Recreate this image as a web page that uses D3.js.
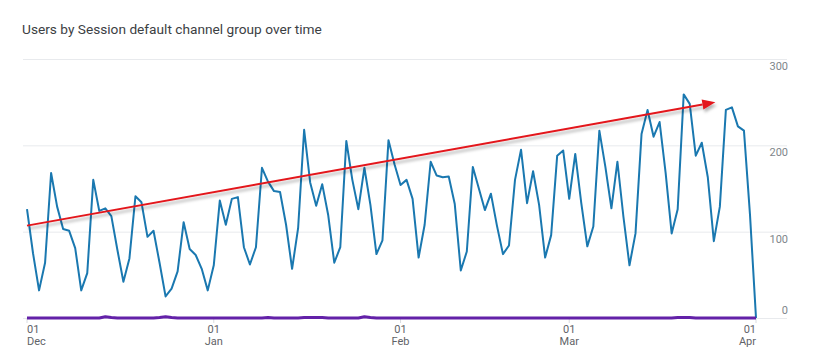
<!DOCTYPE html>
<html>
<head>
<meta charset="utf-8">
<script src="https://cdn.jsdelivr.net/npm/d3@7"></script>
<style>
  body { margin: 0; background: #fff; font-family: Roboto, "Noto Sans", sans-serif; }
  svg { display: block; }
</style>
</head>
<body>
<svg id="chart" width="823" height="354"></svg>
<script>
// daily users, 1 Dec -> 1 Apr
const startDate = new Date(Date.UTC(2022, 11, 1));
const endDate = new Date(Date.UTC(2023, 3, 1));

const organicUsers = [
  126, 75, 32, 64, 168, 129, 103, 101, 81, 32,
  52, 160, 124, 127, 118, 79, 42, 69, 141, 134,
  94, 101, 64, 25, 34, 54, 111, 80, 73, 57,
  32, 61, 136, 108, 138, 140, 82, 62, 82, 174,
  158, 147, 146, 108, 57, 104, 218, 157, 130, 155,
  119, 64, 82, 205, 160, 126, 174, 131, 74, 90,
  206, 178, 154, 160, 138, 70, 108, 181, 165, 163,
  164, 132, 55, 77, 175, 150, 125, 144, 107, 74,
  84, 160, 195, 133, 170, 131, 70, 96, 188, 194,
  138, 190, 133, 83, 106, 217, 175, 127, 181, 117,
  61, 98, 213, 241, 210, 227, 168, 98, 126, 259,
  248, 188, 203, 163, 89, 129, 241, 244, 222, 217,
  120, 0
];

const otherUsers = [
  0, 0, 0, 0, 0, 0, 0, 0, 0, 0,
  0, 0, 0, 1.5, 0.5, 0, 0, 0, 0, 0,
  0, 0, 0.5, 1.5, 0.5, 0, 0, 0, 0, 0,
  0, 0, 0, 0, 0, 0, 0, 0, 0, 0,
  0.5, 0, 0, 0, 0, 0, 0.5, 0.5, 0.5, 0.5,
  0, 0, 0, 0, 0, 0, 1.5, 0.5, 0, 0,
  0, 0, 0, 0, 0, 0, 0, 0, 0, 0,
  0, 0, 0, 0, 0, 0, 0, 0, 0, 0,
  0, 0, 0, 0, 0, 0, 0, 0, 0, 0,
  0, 0, 0, 0, 0, 0, 0, 0, 0, 0,
  0, 0, 0, 0, 0, 0, 0, 0, 0.5, 0.5,
  0.5, 0, 0, 0, 0, 0, 0, 0, 0, 0,
  0, 0
];

const yTicks = [0, 100, 200, 300];
const tickDates = [
  new Date(Date.UTC(2022, 11, 1)),
  new Date(Date.UTC(2023, 0, 1)),
  new Date(Date.UTC(2023, 1, 1)),
  new Date(Date.UTC(2023, 2, 1)),
  new Date(Date.UTC(2023, 3, 1))
];
const tickDays = ["01", "01", "01", "01", "01"];
const tickMonths = ["Dec", "Jan", "Feb", "Mar", "Apr"];

// trend arrow drawn on top (date, value)
const trendFrom = [new Date(Date.UTC(2022, 11, 1)), 107];
const trendTo = [new Date(Date.UTC(2023, 2, 25, 6)), 250];

const title = "Users by Session default channel group over time";

const svg = d3.select("#chart");

const x = d3.scaleUtc().domain([startDate, endDate]).range([27, 756]);
const y = d3.scaleLinear().domain([0, 300]).range([318, 59]);

const days = d3.utcDay.range(startDate, d3.utcDay.offset(endDate, 1));

svg.append("text")
  .attr("x", 22)
  .attr("y", 34)
  .attr("fill", "#3c4043")
  .attr("font-size", 13.7)
  .text(title);

// gridlines
svg.append("g")
  .selectAll("line")
  .data(yTicks)
  .join("line")
  .attr("x1", 23)
  .attr("x2", 787)
  .attr("y1", d => y(d) + 0.5)
  .attr("y2", d => y(d) + 0.5)
  .attr("stroke", "#e8eaed")
  .attr("stroke-width", 1);

// y labels on the right
svg.append("g")
  .selectAll("text")
  .data(yTicks)
  .join("text")
  .attr("x", 788)
  .attr("y", d => d === 0 ? y(d) - 4 : y(d) + 11)
  .attr("text-anchor", "end")
  .attr("fill", "#80868b")
  .attr("font-size", 11)
  .text(d => d);

// x ticks + labels
const xAxis = svg.append("g");
xAxis.selectAll("line")
  .data(tickDates)
  .join("line")
  .attr("x1", d => x(d))
  .attr("x2", d => x(d))
  .attr("y1", 318)
  .attr("y2", 323)
  .attr("stroke", "#dadce0");

const anchorFor = i => i === 0 ? "start" : (i === tickDates.length - 1 ? "end" : "middle");

xAxis.selectAll("text.day")
  .data(tickDates)
  .join("text")
  .attr("class", "day")
  .attr("x", d => x(d))
  .attr("y", 333)
  .attr("text-anchor", (d, i) => anchorFor(i))
  .attr("fill", "#5f6368")
  .attr("font-size", 11)
  .text((d, i) => tickDays[i]);

xAxis.selectAll("text.month")
  .data(tickDates)
  .join("text")
  .attr("class", "month")
  .attr("x", d => x(d))
  .attr("y", 345)
  .attr("text-anchor", (d, i) => anchorFor(i))
  .attr("fill", "#5f6368")
  .attr("font-size", 11)
  .text((d, i) => tickMonths[i]);

const line = d3.line()
  .x((d, i) => x(days[i]))
  .y(d => y(d));

svg.append("path")
  .datum(organicUsers)
  .attr("fill", "none")
  .attr("stroke", "#1a78b0")
  .attr("stroke-width", 2)
  .attr("stroke-linejoin", "round")
  .attr("d", line);

svg.append("path")
  .datum(otherUsers)
  .attr("fill", "none")
  .attr("stroke", "#6321a8")
  .attr("stroke-width", 3)
  .attr("stroke-linejoin", "round")
  .attr("d", line);

// red arrow annotation
const defs = svg.append("defs");
const shadow = defs.append("filter")
  .attr("id", "shadow")
  .attr("x", "-10%").attr("y", "-50%")
  .attr("width", "120%").attr("height", "200%");
shadow.append("feDropShadow")
  .attr("dx", 1.5).attr("dy", 3)
  .attr("stdDeviation", 1.8)
  .attr("flood-color", "#000")
  .attr("flood-opacity", 0.3);

const x0 = x(trendFrom[0]), y0 = y(trendFrom[1]);
const x1 = x(trendTo[0]), y1 = y(trendTo[1]);
const ang = Math.atan2(y1 - y0, x1 - x0);
const headLen = 13, headHalf = 5;
const bx = x1 - headLen * Math.cos(ang), by = y1 - headLen * Math.sin(ang);

const arrow = svg.append("g").attr("filter", "url(#shadow)");
arrow.append("line")
  .attr("x1", x0).attr("y1", y0)
  .attr("x2", bx).attr("y2", by)
  .attr("stroke", "#e3161b")
  .attr("stroke-width", 2);
arrow.append("path")
  .attr("d", `M${x1},${y1}L${bx + headHalf * Math.sin(ang)},${by - headHalf * Math.cos(ang)}L${bx - headHalf * Math.sin(ang)},${by + headHalf * Math.cos(ang)}Z`)
  .attr("fill", "#e3161b");
</script>
</body>
</html>
